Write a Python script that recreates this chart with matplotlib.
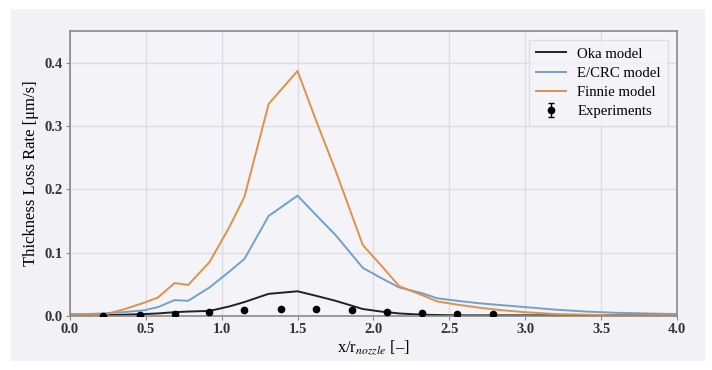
import numpy as np
import matplotlib
matplotlib.use('Agg')
import matplotlib.pyplot as plt
from matplotlib.patches import Rectangle

plt.rcParams['font.family'] = ['Liberation Serif', 'DejaVu Serif']
plt.rcParams['mathtext.fontset'] = 'stix'

# model curves
x_model = [0.0, 0.1, 0.22, 0.35, 0.49, 0.58, 0.69, 0.78, 0.92, 1.05, 1.15, 1.31, 1.5,
           1.62, 1.75, 1.93, 2.05, 2.17, 2.32, 2.42, 2.55, 2.7, 2.85, 3.0, 3.2,
           3.4, 3.6, 3.8, 4.0]
oka = [0.001, 0.001, 0.001, 0.002, 0.003, 0.004, 0.006, 0.007, 0.008, 0.015, 0.022, 0.035, 0.039,
       0.032, 0.024, 0.011, 0.007, 0.004, 0.002, 0.0015, 0.001, 0.001, 0.001, 0.001, 0.001,
       0.001, 0.001, 0.001, 0.001]
ecrc = [0.003, 0.003, 0.004, 0.006, 0.009, 0.014, 0.025, 0.024, 0.045, 0.07, 0.09, 0.158, 0.19,
        0.16, 0.128, 0.076, 0.06, 0.045, 0.036, 0.028, 0.024, 0.02, 0.017, 0.014, 0.01,
        0.007, 0.005, 0.004, 0.003]
finnie = [0.001, 0.001, 0.002, 0.01, 0.021, 0.029, 0.052, 0.049, 0.085, 0.14, 0.188, 0.335, 0.387,
          0.31, 0.23, 0.112, 0.08, 0.047, 0.033, 0.023, 0.018, 0.013, 0.009, 0.006, 0.003,
          0.002, 0.001, 0.001, 0.001]

# measured points
x_exp = [0.22, 0.46, 0.69, 0.92, 1.15, 1.39, 1.62, 1.86, 2.09, 2.32, 2.55, 2.79]
y_exp = [0.0, 0.0015, 0.003, 0.006, 0.0095, 0.0115, 0.0115, 0.0095, 0.006, 0.004, 0.003, 0.003]
err_exp = [0.0003, 0.0004, 0.0005, 0.0006, 0.0008, 0.0009, 0.0009, 0.0008, 0.0006, 0.0005, 0.0004, 0.0004]

fig = plt.figure(figsize=(7.12, 3.7), dpi=100, facecolor='white')
fig.patches.append(Rectangle((0.015, 0.024), 0.975, 0.952, transform=fig.transFigure,
                             facecolor='#f1f1f6', edgecolor='none', zorder=-10))
ax = fig.add_axes([0.098, 0.146, 0.853, 0.770])
ax.set_facecolor('#f4f4f8')

ax.plot(x_model, oka, color='#222222', lw=1.4, label='Oka model')
ax.plot(x_model, ecrc, color='#72a0cc', lw=1.4, label='E/CRC model')
ax.plot(x_model, finnie, color='#df9148', lw=1.4, label='Finnie model')
ax.errorbar(x_exp, y_exp, yerr=err_exp, fmt='o', color='black', ms=4.5, capsize=2,
            elinewidth=1, label='Experiments', zorder=5)

ax.set_xlim(0, 4)
ax.set_ylim(0, 0.45)
ax.set_xticks(np.arange(0, 4.01, 0.5))
ax.set_yticks([0.0, 0.1, 0.2, 0.3, 0.4])
ax.grid(True, color='#dcdce2', lw=1)
ax.set_axisbelow(True)
for s in ax.spines.values():
    s.set_color('#8a8a8a')
    s.set_linewidth(1.2)
ax.tick_params(labelsize=10.5, length=3, color='#8a8a8a', pad=2)
for lab in ax.get_xticklabels() + ax.get_yticklabels():
    lab.set_fontweight('bold')
    lab.set_color('#333333')

ax.set_xlabel(r'x/r$_{\mathit{nozzle}}$ [–]', fontsize=12, labelpad=2)
ax.set_ylabel('Thickness Loss Rate [μm/s]', fontsize=12, labelpad=4)

leg = ax.legend(loc='upper right', fontsize=10.6, frameon=True, fancybox=False,
                borderpad=0.5, handlelength=2.0, labelspacing=0.4, borderaxespad=0.6)
leg.get_frame().set_facecolor('#f4f4f8')
leg.get_frame().set_edgecolor('#d8d8de')

plt.savefig('out.png', dpi=100)
